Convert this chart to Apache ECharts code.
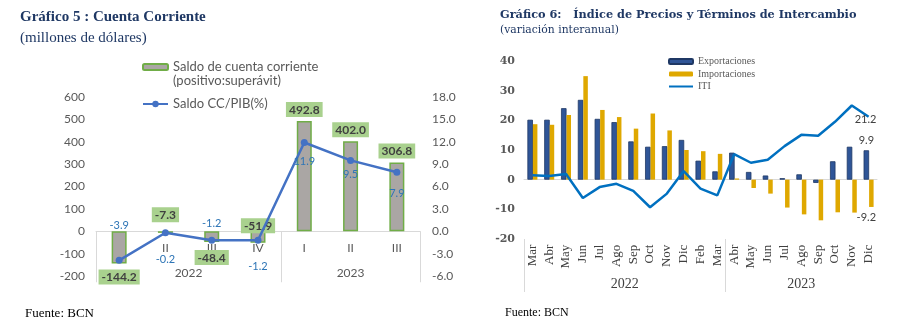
<!DOCTYPE html>
<html>
<head>
<meta charset="utf-8">
<script src="https://cdn.jsdelivr.net/npm/echarts@6/dist/echarts.min.js"></script>
<style>
  html, body { margin: 0; padding: 0; background: #ffffff; }
  #chart { width: 901px; height: 329px; }
</style>
</head>
<body>
<div id="chart"></div>
<script>
// ---- Gráfico 5: Cuenta Corriente (trimestral) ----
const quarters = ['I', 'II', 'III', 'IV', 'I', 'II', 'III'];
const quarterYears = ['2022', '2022', '2022', '2022', '2023', '2023', '2023'];
const cuentaCorriente = [-144.2, -7.3, -48.4, -51.9, 492.8, 402.0, 306.8];
const ccPib = [-3.9, -0.2, -1.2, -1.2, 11.9, 9.5, 7.9];

// ---- Gráfico 6: Índice de Precios y Términos de Intercambio (mensual) ----
const months = ['Mar', 'Abr', 'May', 'Jun', 'Jul', 'Ago', 'Sep', 'Oct', 'Nov', 'Dic', 'Feb', 'Mar',
                'Abr', 'May', 'Jun', 'Jul', 'Ago', 'Sep', 'Oct', 'Nov', 'Dic'];
const monthYears = ['2022', '2022', '2022', '2022', '2022', '2022', '2022', '2022', '2022', '2022', '2022', '2022',
                    '2023', '2023', '2023', '2023', '2023', '2023', '2023', '2023', '2023'];
const exportaciones = [20.2, 20.2, 24.1, 26.9, 20.5, 19.4, 12.9, 11.1, 11.3, 13.4, 6.4, 2.8,
                       9.1, 2.6, 1.4, 0.5, 1.8, -1.1, 6.2, 11.1, 9.9];
const importaciones = [18.7, 18.5, 21.8, 34.9, 23.5, 21.1, 17.2, 22.3, 16.6, 10.0, 9.6, 8.7,
                       0.4, -2.8, -4.7, -9.4, -11.7, -13.7, -11.0, -11.1, -9.2];
const iti = [1.5, 1.2, 1.9, -6.2, -2.5, -1.4, -3.8, -9.3, -4.7, 2.9, -3.0, -5.3,
             8.6, 5.7, 6.7, 11.3, 15.1, 14.8, 19.5, 25.0, 21.2];

const SANS = 'Lato, "Open Sans", "DejaVu Sans", sans-serif';
const SERIF = '"Liberation Serif", "DejaVu Serif", serif';
const WIDE_SERIF = '"DejaVu Serif", "Liberation Serif", serif';
const NAVY = '#1F3864';
const GREY_TEXT = '#595959';
const RULE = '#D9D9D9';

const CHART_H = 329;
const gridCC = { left: 96, right: 481, top: 97, bottom: 53 };
const gridIP = { left: 524, right: 24, top: 61, bottom: 90 };
const ccScale = { min: -200, max: 600 };
const ipScale = { min: -20, max: 40 };

// distance from the grid's bottom edge up to the value 0
function zeroLift(grid, scale) {
  const h = CHART_H - grid.top - grid.bottom;
  return (0 - scale.min) / (scale.max - scale.min) * h;
}

// Group consecutive equal year labels: centre of each group and the boundaries between groups
function yearGroups(years) {
  const centers = [], names = [], bounds = [-0.5];
  let start = 0;
  for (let i = 1; i <= years.length; i++) {
    if (i === years.length || years[i] !== years[start]) {
      centers.push((start + i - 1) / 2);
      names.push(years[start]);
      bounds.push(i - 0.5);
      start = i;
    }
  }
  return { centers, names, bounds };
}
const qGroups = yearGroups(quarterYears);
const mGroups = yearGroups(monthYears);
function groupName(groups) {
  return function (v) {
    for (let i = 0; i < groups.centers.length; i++) {
      if (Math.abs(groups.centers[i] - v) < 1e-6) return groups.names[i];
    }
    return '';
  };
}

// Label placement for the current-account bars and the CC/PIB line
const ccLabelPlace = [['bottom', 6], ['top', 9], ['bottom', 8], ['top', -2], ['top', 4], ['top', 4], ['top', 4]];
const pibLabelPlace = [['top', 26], ['bottom', 18], ['top', 8], ['bottom', 17], ['bottom', 10], ['bottom', 5], ['bottom', 12]];

const ccData = cuentaCorriente.map((v, i) => ({
  value: v,
  label: { position: ccLabelPlace[i][0], distance: ccLabelPlace[i][1] }
}));
const pibData = ccPib.map((v, i) => ({
  value: v,
  label: { position: pibLabelPlace[i][0], distance: pibLabelPlace[i][1] }
}));

const last = months.length - 1;
const expData = exportaciones.map((v, i) => i === last
  ? { value: v, label: { show: true, position: 'top', distance: 4 } } : v);
const impData = importaciones.map((v, i) => i === last
  ? { value: v, label: { show: true, position: 'bottom', distance: 5, offset: [-5, 0] } } : v);
const itiData = iti.map((v, i) => i === last
  ? { value: v, label: { show: true, position: 'top', distance: 0, offset: [-3, 8] } } : v);

const ccZero = zeroLift(gridCC, ccScale);
const ipZero = zeroLift(gridIP, ipScale);

const chart = echarts.init(document.getElementById('chart'), null, { renderer: 'canvas' });

const option = {
  animation: false,
  backgroundColor: '#ffffff',
  title: [
    {
      text: 'Gráfico 5 : Cuenta Corriente',
      subtext: '(millones de dólares)',
      left: 15, top: 5, itemGap: 6,
      textStyle: { fontFamily: SERIF, fontSize: 15, fontWeight: 'bold', color: NAVY },
      subtextStyle: { fontFamily: SERIF, fontSize: 15, color: NAVY }
    },
    {
      text: 'Fuente: BCN',
      left: 20, top: 302,
      textStyle: { fontFamily: SERIF, fontSize: 13, fontWeight: 'normal', color: '#000000' }
    },
    {
      text: 'Gráfico 6:   Índice de Precios y Términos de Intercambio',
      subtext: '(variación interanual)',
      left: 495, top: 5, itemGap: 4,
      textStyle: { fontFamily: WIDE_SERIF, fontSize: 11.3, fontWeight: 'bold', color: NAVY },
      subtextStyle: { fontFamily: WIDE_SERIF, fontSize: 10.8, color: NAVY }
    },
    {
      text: 'Fuente: BCN',
      left: 500, top: 302,
      textStyle: { fontFamily: SERIF, fontSize: 12, fontWeight: 'normal', color: '#000000' }
    }
  ],
  legend: [
    {
      data: ['Saldo de cuenta corriente (positivo:superávit)'],
      left: 142, top: 46, padding: 0, orient: 'vertical',
      itemWidth: 25, itemHeight: 6, selectedMode: false,
      // a blank first line keeps the icon level with the first line of text
      formatter: name => ' \n' + name.replace(' (', '\n('),
      textStyle: { fontFamily: SANS, fontSize: 13, color: GREY_TEXT, lineHeight: 14 }
    },
    {
      data: ['Saldo CC/PIB(%)'],
      left: 142, top: 97, padding: 0, orient: 'vertical',
      itemWidth: 25, itemHeight: 8, selectedMode: false,
      textStyle: { fontFamily: SANS, fontSize: 13, color: GREY_TEXT, lineHeight: 14 }
    },
    {
      data: ['Exportaciones', 'Importaciones', { name: 'ITI', itemStyle: { opacity: 0 } }],
      left: 668, top: 56, padding: 0, orient: 'vertical', itemGap: 1.5,
      itemWidth: 24, itemHeight: 5, selectedMode: false,
      textStyle: { fontFamily: SERIF, fontSize: 10, color: GREY_TEXT, lineHeight: 11 }
    }
  ],
  grid: [
    Object.assign({ containLabel: false }, gridCC),
    Object.assign({ containLabel: false }, gridIP)
  ],
  xAxis: [
    {
      // quarters, drawn along the zero line
      gridIndex: 0, type: 'category', data: quarters,
      position: 'bottom', offset: -ccZero,
      axisLine: { onZero: false, lineStyle: { color: RULE, width: 1 } },
      axisTick: { show: false },
      axisLabel: { interval: 0, margin: 11, fontFamily: SANS, fontSize: 12, color: GREY_TEXT },
      splitLine: { show: false }
    },
    {
      // year groups and their separators
      gridIndex: 0, type: 'value', min: -0.5, max: quarters.length - 0.5,
      position: 'bottom', offset: -ccZero,
      axisLine: { show: false, onZero: false },
      axisTick: { show: true, customValues: qGroups.bounds, length: 51, lineStyle: { color: RULE, width: 1 } },
      axisLabel: { customValues: qGroups.centers, formatter: groupName(qGroups), margin: 36,
                   fontFamily: SANS, fontSize: 12, color: GREY_TEXT },
      splitLine: { show: false }
    },
    {
      // months, drawn along the zero line
      gridIndex: 1, type: 'category', data: months,
      position: 'bottom', offset: -ipZero,
      axisLine: { onZero: false, lineStyle: { color: RULE, width: 1 } },
      axisTick: { show: false },
      axisLabel: { interval: 0, rotate: 90, margin: 65, fontFamily: SERIF, fontSize: 13, color: '#404040' },
      splitLine: { show: false }
    },
    {
      gridIndex: 1, type: 'value', min: -0.5, max: months.length - 0.5,
      position: 'bottom',
      axisLine: { show: false, onZero: false },
      axisTick: { show: true, customValues: mGroups.bounds.slice(0, -1), length: 53, lineStyle: { color: RULE, width: 1 } },
      axisLabel: { customValues: mGroups.centers, formatter: groupName(mGroups), margin: 38,
                   fontFamily: SERIF, fontSize: 14, color: '#404040' },
      splitLine: { show: false }
    }
  ],
  yAxis: [
    {
      gridIndex: 0, type: 'value', min: ccScale.min, max: ccScale.max, interval: 100,
      axisLine: { show: false, onZero: false }, axisTick: { show: false }, splitLine: { show: false },
      axisLabel: { margin: 11, fontFamily: SANS, fontSize: 12, color: GREY_TEXT }
    },
    {
      gridIndex: 0, type: 'value', min: -6, max: 18, interval: 3, position: 'right',
      axisLine: { show: false, onZero: false }, axisTick: { show: false }, splitLine: { show: false },
      axisLabel: { margin: 12, fontFamily: SANS, fontSize: 12, color: GREY_TEXT,
                   formatter: v => v.toFixed(1) }
    },
    {
      gridIndex: 1, type: 'value', min: ipScale.min, max: ipScale.max, interval: 10,
      axisLine: { show: false, onZero: false }, axisTick: { show: false }, splitLine: { show: false },
      axisLabel: { margin: 9, fontFamily: WIDE_SERIF, fontSize: 11, fontWeight: 'bold', color: GREY_TEXT }
    }
  ],
  series: [
    {
      name: 'Saldo de cuenta corriente (positivo:superávit)',
      type: 'bar', xAxisIndex: 0, yAxisIndex: 0, data: ccData,
      barWidth: 15,
      itemStyle: { color: '#AAA6A4', borderColor: '#70AD47', borderWidth: 1.5 },
      label: {
        show: true, formatter: p => p.value.toFixed(1),
        fontFamily: SANS, fontSize: 12, fontWeight: 'bold', color: '#404040',
        backgroundColor: '#A9D18E', padding: [2, 3, 1, 3]
      },
      z: 2
    },
    {
      name: 'Saldo CC/PIB(%)',
      type: 'line', xAxisIndex: 0, yAxisIndex: 1, data: pibData,
      symbol: 'circle', symbolSize: 7,
      lineStyle: { color: '#4472C4', width: 2.5 },
      itemStyle: { color: '#4472C4' },
      label: {
        show: true, formatter: p => p.value.toFixed(1),
        fontFamily: SANS, fontSize: 11, color: '#2E75B6'
      },
      z: 4
    },
    {
      name: 'Exportaciones',
      type: 'bar', xAxisIndex: 2, yAxisIndex: 2, data: expData,
      barWidth: 5.5, barGap: '0%',
      itemStyle: { color: '#2F5597', borderColor: '#1F3864', borderWidth: 0.8 },
      label: { show: false, fontFamily: SANS, fontSize: 11, color: '#404040', formatter: p => p.value.toFixed(1) }
    },
    {
      name: 'Importaciones',
      type: 'bar', xAxisIndex: 2, yAxisIndex: 2, data: impData,
      barWidth: 4.5, barGap: '0%',
      itemStyle: { color: '#DFA800' },
      label: { show: false, fontFamily: SANS, fontSize: 11, color: '#404040', formatter: p => p.value.toFixed(1) }
    },
    {
      name: 'ITI',
      type: 'line', xAxisIndex: 2, yAxisIndex: 2, data: itiData,
      symbol: 'circle', symbolSize: 0, showSymbol: true,
      lineStyle: { color: '#0070C0', width: 2.5 },
      itemStyle: { color: '#0070C0' },
      label: { show: false, fontFamily: SANS, fontSize: 11, color: '#404040', formatter: p => p.value.toFixed(1) },
      z: 4
    }
  ]
};

chart.setOption(option);
</script>
</body>
</html>
